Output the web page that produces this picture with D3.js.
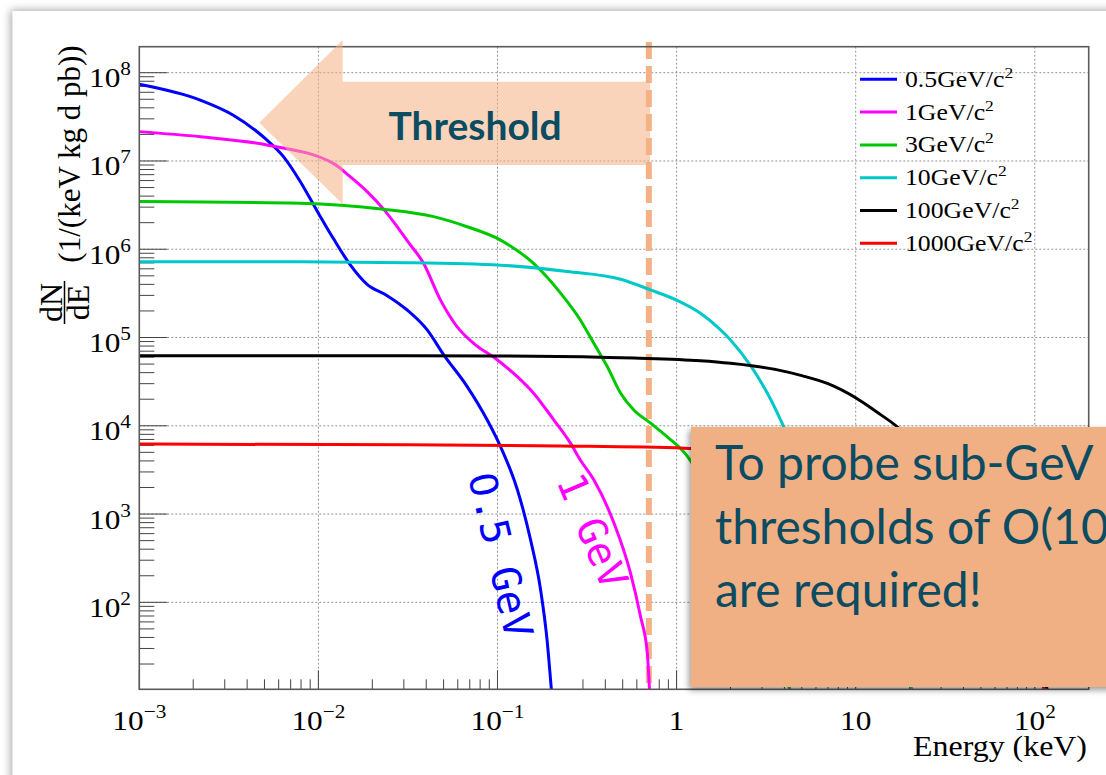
<!DOCTYPE html>
<html><head><meta charset="utf-8">
<script src="https://cdn.jsdelivr.net/npm/d3@7"></script>
<style>html,body{margin:0;padding:0;background:#fff;overflow:hidden}</style>
</head><body>
<svg id="c" width="1106" height="775"></svg>
<script>
// ---------- data ----------
const massLabels = ["0.5", "1", "3", "10", "100", "1000"];
const seriesColors = ["#0000ff", "#ff00ff", "#00c800", "#00c8c8", "#000000", "#ff0000"];

const e05 = [0.001,0.00219,0.00335,0.00515,0.00638,0.0079,0.0098,0.0121,0.0151,0.0187,0.0241,0.0313,0.0405,0.050,0.0676,0.0875,0.104,0.129,0.153,0.174,0.189,0.198,0.202];
const n05 = [7.4e7,4.9e7,3.3e7,1.73e7,1.12e7,5.9e6,2.75e6,1.33e6,6.6e5,4.0e5,3.0e5,2.05e5,1.22e5,6.4e4,2.8e4,1.17e4,5.8e3,1.9e3,510,139,38,13,8];

const e1 = [0.001,0.00219,0.00515,0.0121,0.0151,0.0187,0.0231,0.027,0.0313,0.0387,0.048,0.0594,0.0736,0.0995,0.129,0.159,0.206,0.255,0.290,0.345,0.447,0.553,0.629,0.686,0.71];
const n1 = [2.15e7,1.88e7,1.52e7,9.4e6,6.6e6,4.5e6,2.85e6,1.9e6,1.25e6,6.9e5,2.67e5,1.33e5,8.6e4,5.6e4,3.6e4,2.34e4,1.17e4,6.4e3,4.1e3,2.44e3,790,214,69,27,8];

const e3 = [0.001,0.0079,0.0231,0.044,0.0676,0.104,0.159,0.225,0.290,0.345,0.410,0.487,0.577,0.716,0.887,1.15,1.24,1.6,2.0,2.5,3.0,3.6,4.1,4.45];
const n3 = [3.47e6,3.32e6,2.84e6,2.34e6,1.8e6,1.27e6,6.9e5,3.18e5,1.58e5,8.6e4,4.7e4,2.34e4,1.51e4,1.07e4,7.5e3,4.5e3,3.6e3,1.8e3,800,300,110,35,14,8];

const e10 = [0.001,0.0079,0.0316,0.104,0.245,0.487,0.716,1.0,1.36,1.76,2.0,2.59,3.36,3.96,5.0,7.0,10,14,18,21.5];
const n10 = [7.2e5,7.2e5,7.05e5,6.6e5,5.6e5,4.57e5,3.46e5,2.65e5,1.88e5,1.22e5,9.4e4,4.8e4,1.97e4,9.8e3,3.5e3,900,250,70,22,8];

const e100 = [0.001,0.0316,0.159,0.577,1.36,2.0,2.69,3.66,5.0,7.0,10.1,13,17,25,40,60,80,100,115,121];
const n100 = [6.2e4,6.2e4,6.15e4,5.85e4,5.45e4,5.1e4,4.75e4,4.3e4,3.7e4,3.0e4,2.05e4,1.45e4,9.8e3,4.5e3,1.4e3,400,120,35,12,8];

const e1000 = [0.001,0.0316,0.225,1.1,3,10,20,40,70,100,113,117];
const n1000 = [6.2e3,6.1e3,5.9e3,5.57e3,5.0e3,3.3e3,2.0e3,700,150,30,10,8];

const seriesE = [e05, e1, e3, e10, e100, e1000];
const seriesN = [n05, n1, n3, n10, n100, n1000];

const xMajor = [1e-3, 1e-2, 1e-1, 1, 10, 100];
const xLabelBase = ["10", "10", "10", "1", "10", "10"];
const xLabelExp  = ["\u22123", "\u22122", "\u22121", "", "", "2"];
const yMajorExp = [2, 3, 4, 5, 6, 7, 8];
const thresholdKeV = 0.7;
const calloutLines = ["To probe sub-GeV", "thresholds of O(100 eV)", "are required!"];

// ---------- layout ----------
const svg = d3.select("#c");
const L = 139.3, R = 1088.7, T = 46.7, B = 689.3;
const x = d3.scaleLog().domain([1e-3, 200]).range([L, R]);
const y = d3.scaleLog().domain([10, 1e8]).range([690.6, 72.7]);
const serif = "'Liberation Serif','Times New Roman',serif";
const SX = 1.12; // horizontal stretch of the pasted plot image

const defs = svg.append("defs");
const f1 = defs.append("filter").attr("id","cardsh").attr("x","-5%").attr("y","-5%").attr("width","110%").attr("height","110%");
f1.append("feDropShadow").attr("dx",-2).attr("dy",-1).attr("stdDeviation",4).attr("flood-color","#000").attr("flood-opacity",0.35);
const f2 = defs.append("filter").attr("id","boxsh").attr("x","-10%").attr("y","-10%").attr("width","120%").attr("height","120%");
f2.append("feDropShadow").attr("dx",-2).attr("dy",3).attr("stdDeviation",3).attr("flood-color","#000").attr("flood-opacity",0.4);
defs.append("clipPath").attr("id","frame").append("rect").attr("x",L).attr("y",T).attr("width",R-L).attr("height",B-T);

// slide card
svg.append("rect").attr("x",12.7).attr("y",11).attr("width",1300).attr("height",900).attr("fill","#fff").attr("filter","url(#cardsh)");

// grid
const g = svg.append("g");
xMajor.filter(v => x(v) > L + 1 && x(v) < R - 1).forEach(v => {
  g.append("line").attr("x1",x(v)).attr("x2",x(v)).attr("y1",T).attr("y2",B)
    .attr("stroke","#888").attr("stroke-width",0.9).attr("stroke-dasharray","2,2");
});
yMajorExp.forEach(k => {
  const v = Math.pow(10,k);
  g.append("line").attr("x1",L).attr("x2",R).attr("y1",y(v)).attr("y2",y(v))
    .attr("stroke","#888").attr("stroke-width",0.9).attr("stroke-dasharray","2,2");
});

// threshold dashed line (under curves)
svg.append("line").attr("x1",x(thresholdKeV)).attr("x2",x(thresholdKeV)).attr("y1",42).attr("y2",690)
  .attr("stroke","#f4b183").attr("stroke-width",6).attr("stroke-dasharray","17,7");

// ticks
const tk = svg.append("g").attr("stroke","#444").attr("stroke-width",1);
for (let k = -3; k <= 2; k++) {
  for (let m = 1; m <= 9; m++) {
    const v = m * Math.pow(10,k);
    if (v > 200) continue;
    const len = m === 1 ? 19 : 10;
    tk.append("line").attr("x1",x(v)).attr("x2",x(v)).attr("y1",B).attr("y2",B-len);
  }
}
for (let k = 1; k <= 8; k++) {
  for (let m = 1; m <= 9; m++) {
    const v = m * Math.pow(10,k);
    const py = y(v);
    if (py < T || py > B) continue;
    const len = m === 1 ? 28 : 15;
    tk.append("line").attr("x1",L).attr("x2",L+len).attr("y1",py).attr("y2",py);
  }
}

// curves
const line = d3.line().x(d => x(d[0])).y(d => y(d[1])).curve(d3.curveMonotoneX);
const cg = svg.append("g").attr("clip-path","url(#frame)");
seriesE.forEach((es, i) => {
  const pts = es.map((e, j) => [e, seriesN[i][j]]);
  cg.append("path").attr("d", line(pts)).attr("fill","none").attr("stroke", seriesColors[i])
    .attr("stroke-width", 3).attr("stroke-linejoin","round");
});

// frame
svg.append("rect").attr("x",L).attr("y",T).attr("width",R-L).attr("height",B-T)
  .attr("fill","none").attr("stroke","#5a5a5a").attr("stroke-width",1.6);

// tick labels
xMajor.forEach((v, i) => {
  const t = svg.append("text").attr("transform",`translate(${x(v)},730) scale(${SX},1)`).attr("text-anchor","middle")
    .attr("font-family",serif).attr("font-size",28).attr("fill","#000");
  t.append("tspan").text(xLabelBase[i]);
  if (xLabelExp[i]) t.append("tspan").attr("dy",-12).attr("font-size",19).text(xLabelExp[i]);
});
yMajorExp.forEach(k => {
  const t = svg.append("text").attr("transform",`translate(131,${y(Math.pow(10,k)) + 14.5}) scale(${SX},1)`).attr("text-anchor","end")
    .attr("font-family",serif).attr("font-size",28).attr("fill","#000");
  t.append("tspan").text("10");
  t.append("tspan").attr("dy",-12).attr("font-size",19).text(String(k));
});

// axis titles
svg.append("text").attr("transform",`translate(1087,756) scale(${SX},1)`).attr("text-anchor","end")
  .attr("font-family",serif).attr("font-size",28.5).attr("fill","#000").text("Energy (keV)");
svg.append("text").attr("transform","translate(80,154) rotate(-90)").attr("text-anchor","middle")
  .attr("font-family",serif).attr("font-size",31).attr("fill","#000").text("(1/(keV kg d pb))");
svg.append("text").attr("transform","translate(61.5,302.5) rotate(-90)").attr("text-anchor","middle")
  .attr("font-family",serif).attr("font-size",32).attr("fill","#000").text("dN");
svg.append("text").attr("transform","translate(88.5,302.5) rotate(-90)").attr("text-anchor","middle")
  .attr("font-family",serif).attr("font-size",32).attr("fill","#000").text("dE");
svg.append("line").attr("x1",64.5).attr("x2",64.5).attr("y1",281).attr("y2",324).attr("stroke","#000").attr("stroke-width",1.5);

// legend
const lg = svg.append("g");
massLabels.forEach((m, i) => {
  const ly = 79.3 + i * 32.8;
  lg.append("line").attr("x1",860).attr("x2",897).attr("y1",ly).attr("y2",ly)
    .attr("stroke",seriesColors[i]).attr("stroke-width",3);
  const t = lg.append("text").attr("transform",`translate(905,${ly+7.5}) scale(${SX},1)`).attr("font-family",serif)
    .attr("font-size",23).attr("fill","#000");
  t.append("tspan").text(m + "GeV/c");
  t.append("tspan").attr("dy",-9).attr("font-size",15.5).text("2");
});

// threshold arrow (semi-transparent overlay)
svg.append("polygon")
  .attr("points","259.3,122.7 342.7,40 342.7,81.7 650,81.7 650,165 342.7,165 342.7,204")
  .attr("fill","#f4b183").attr("fill-opacity",0.55);
svg.append("text").attr("x",475).attr("y",140).attr("text-anchor","middle")
  .attr("font-family","Lato,'Open Sans',sans-serif").attr("font-weight","bold").attr("font-size",39)
  .attr("fill","#0b4c62").text("Threshold");

// curve labels
const mono = "'DejaVu Sans Mono','Liberation Mono',monospace";
const lb05 = svg.append("text").attr("transform","translate(468,476) rotate(77)")
  .attr("font-family",mono).attr("font-size",40).attr("fill","#0000ff");
lb05.append("tspan").attr("font-family","'DejaVu Sans',sans-serif").attr("font-size",38).text("0");
lb05.append("tspan").text(".5 GeV");
svg.append("text").attr("transform","translate(556,481) rotate(67)")
  .attr("font-family",mono).attr("font-size",40)
  .attr("fill","#ff00ff").text("1 GeV");

// callout box
svg.append("rect").attr("x",691).attr("y",427).attr("width",460).attr("height",260)
  .attr("fill","#f1b084").attr("filter","url(#boxsh)");
const bt = svg.append("text").attr("font-family","Lato,'Open Sans',sans-serif").attr("font-size",48).attr("fill","#0b4c62");
calloutLines.forEach((s, i) => {
  bt.append("tspan").attr("x",715).attr("y",480 + i*63.5).text(s);
});
</script>
</body></html>
